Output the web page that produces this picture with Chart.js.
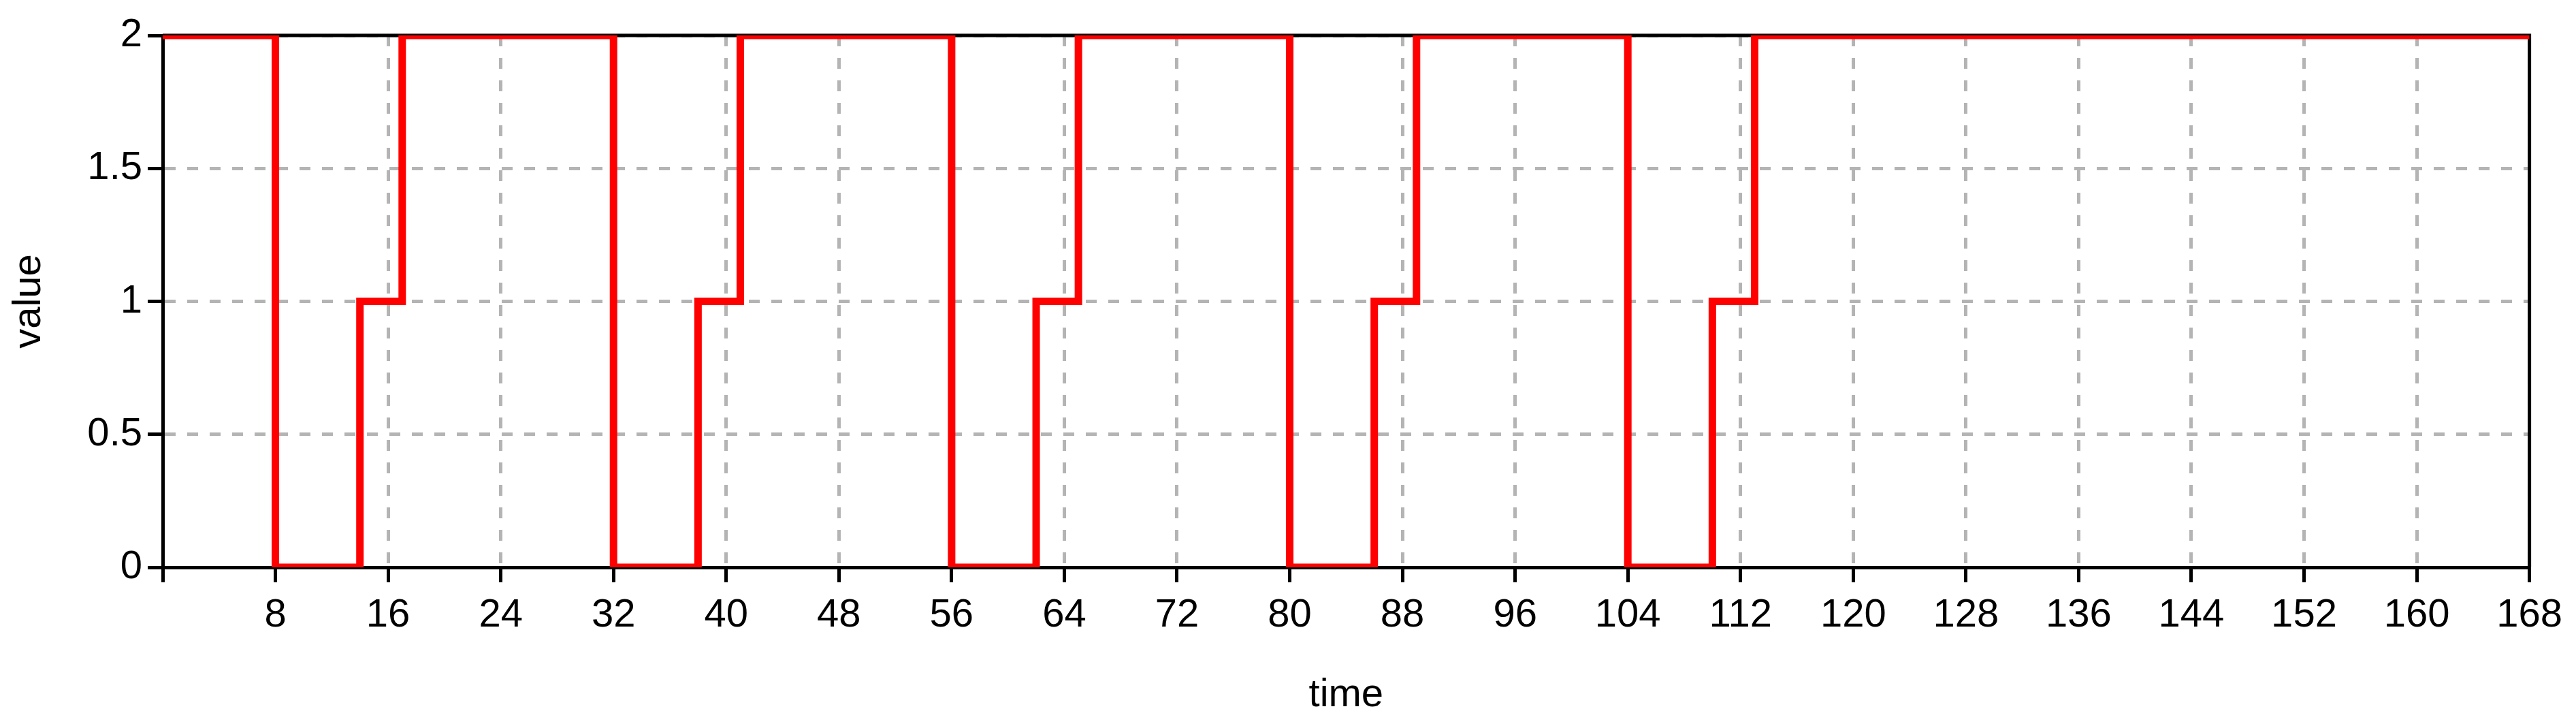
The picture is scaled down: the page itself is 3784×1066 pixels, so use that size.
<!DOCTYPE html>
<html>
<head>
<meta charset="utf-8">
<script src="https://cdn.jsdelivr.net/npm/chart.js@4.4.1/dist/chart.umd.min.js"></script>
<style>
	html, body { margin: 0; padding: 0; background: #ffffff; }
	#wrap { width: 3784px; height: 1066px; position: relative; }
</style>
</head>
<body>
<div id="wrap"><canvas id="stepChart"></canvas></div>
<script>
// step series: value holds from each time until the next one
var times = [0, 8, 14, 17, 32, 38, 41, 56, 62, 65, 80, 86, 89, 104, 110, 113, 168];
var values = [2, 0, 1, 2, 0, 1, 2, 0, 1, 2, 0, 1, 2, 0, 1, 2, 2];

var xTickLabels = ['', '8', '16', '24', '32', '40', '48', '56', '64', '72', '80', '88', '96', '104', '112', '120', '128', '136', '144', '152', '160', '168'];
var yTickLabels = ['0', '0.5', '1', '1.5', '2'];

var tickFont = { family: 'Liberation Sans', size: 58, lineHeight: 1 };

// black frame on top and right of the plot area
var framePlugin = {
	id: 'frame',
	beforeDatasetsDraw: function(chart) {
		var a = chart.chartArea;
		var ctx = chart.ctx;
		ctx.save();
		ctx.strokeStyle = '#000000';
		ctx.lineWidth = 5;
		ctx.beginPath();
		ctx.moveTo(a.left, a.top);
		ctx.lineTo(a.right, a.top);
		ctx.lineTo(a.right, a.bottom);
		ctx.stroke();
		ctx.restore();
	}
};

function makeStepChart() {
	var points = times.map(function(t, i) { return { x: t, y: values[i] }; });

	new Chart(document.getElementById('stepChart'), {
		type: 'line',
		data: {
			datasets: [{
				data: points,
				stepped: true,
				borderColor: '#ff0000',
				backgroundColor: 'transparent',
				borderWidth: 11,
				pointRadius: 0,
				fill: false
			}]
		},
		options: {
			responsive: true,
			maintainAspectRatio: false,
			animation: false,
			layout: {
				padding: { top: 52, right: 68, left: 0, bottom: 0 }
			},
			plugins: {
				legend: { display: false },
				tooltip: { enabled: false }
			},
			scales: {
				x: {
					type: 'linear',
					min: 0,
					max: 168,
					afterFit: function(scale) { scale.height = 233; },
					ticks: {
						stepSize: 8,
						autoSkip: false,
						maxRotation: 0,
						padding: 20,
						color: '#000000',
						font: tickFont,
						callback: function(value, index) { return xTickLabels[index]; }
					},
					grid: {
						color: '#b4b4b4',
						lineWidth: 5,
						tickColor: '#000000',
						tickWidth: 5,
						tickLength: 22,
						tickBorderDash: []
					},
					border: { color: '#000000', width: 5, dash: [16, 17] },
					title: {
						display: true,
						text: 'time',
						color: '#000000',
						font: tickFont,
						padding: { top: 0, bottom: 16 }
					}
				},
				y: {
					min: 0,
					max: 2,
					afterFit: function(scale) { scale.width = 239; },
					ticks: {
						stepSize: 0.5,
						padding: 8,
						color: '#000000',
						font: tickFont,
						callback: function(value, index) { return yTickLabels[index]; }
					},
					grid: {
						color: '#b4b4b4',
						lineWidth: 5,
						tickColor: '#000000',
						tickWidth: 5,
						tickLength: 22,
						tickBorderDash: []
					},
					border: { color: '#000000', width: 5, dash: [16, 17] },
					title: {
						display: true,
						text: 'value',
						color: '#000000',
						font: tickFont,
						padding: { top: 14, bottom: 0 }
					}
				}
			}
		},
		plugins: [framePlugin]
	});
}

makeStepChart();
</script>
</body>
</html>
